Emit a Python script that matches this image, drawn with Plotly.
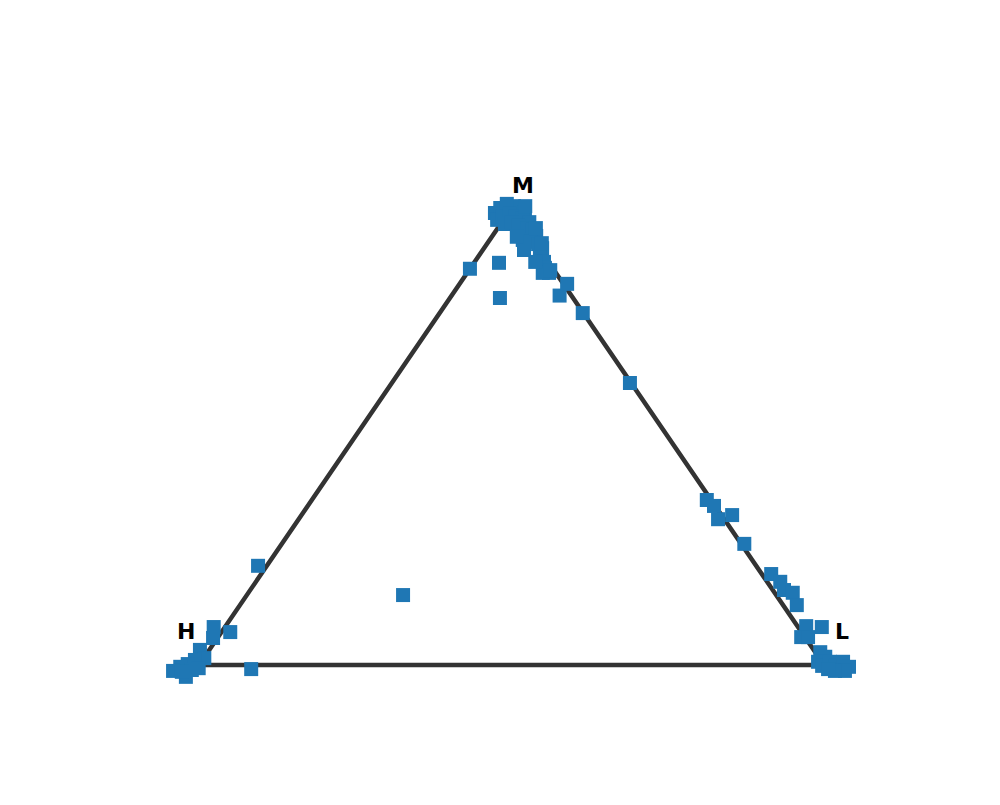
import plotly.graph_objects as go

# Ternary data: fractions (H, L, M)
h_vals = [
    # M corner cluster
    0.032, 0.018, 0.003, -0.006, -0.014, -0.017, 0.036, 0.023, 0.009, 0.002,
    -0.006, -0.013, 0.028, 0.015, 0.009, -0.003, -0.010, -0.009, 0.017, 0.007,
    0.026, -0.003, -0.005, 0.007, 0.007, 0.012, 0.011, 0.023, 0.021, 0.021,
    -0.024, -0.017, -0.010, 0.006,
    # upper points
    0.133, 0.080, 0.117, 0.002, 0.001, 0.019, -0.006,
    # interior / left edge
    0.597, 0.797,
    # H corner
    0.935, 0.948, 0.914, 0.921, 0.982, 0.984, 1.001, 1.017, 1.032, 1.048,
    1.034, 1.004, 1.017, 1.035,
    # L side and corner
    0.007, 0.002, 0.010, -0.017, -0.005, -0.015, -0.021, -0.018, -0.029, -0.022,
    -0.014, 0.006, -0.005, -0.038, -0.008, -0.011, 0.006, 0.004, -0.013, -0.018,
    -0.034, -0.038, -0.027, -0.011, -0.002,
]
l_vals = [
    -0.021, -0.018, -0.012, 0.002, 0.014, 0.026, -0.010, -0.005, 0.004, 0.016,
    0.028, 0.044, 0.007, 0.016, 0.030, 0.047, 0.058, 0.070, 0.053, 0.067,
    0.066, 0.082, 0.093, 0.098, 0.111, 0.119, 0.131, 0.040, 0.121, 0.097,
    0.020, 0.061, 0.087, 0.130,
    0.000, 0.040, 0.080, 0.381, 0.229, 0.174, 0.172,
    0.250, -0.014,
    -0.018, -0.007, 0.014, 0.088, -0.015, 0.001, -0.012, -0.019, -0.028, -0.035,
    -0.008, 0.003, -0.006, -0.020,
    0.632, 0.650, 0.671, 0.689, 0.740, 0.816, 0.839, 0.854, 0.871, 0.891,
    0.929, 0.933, 0.944, 0.955, 0.980, 0.993, 0.987, 0.998, 1.006, 1.020,
    1.027, 1.042, 1.040, 1.024, 1.011,
]
m_vals = [
    0.989, 1.000, 1.009, 1.004, 1.000, 0.991, 0.974, 0.982, 0.987, 0.982,
    0.978, 0.969, 0.965, 0.969, 0.961, 0.956, 0.952, 0.939, 0.930, 0.926,
    0.908, 0.921, 0.912, 0.895, 0.882, 0.869, 0.858, 0.937, 0.858, 0.882,
    1.004, 0.956, 0.923, 0.864,
    0.867, 0.880, 0.803, 0.617, 0.770, 0.814, 0.834,
    0.153, 0.217,
    0.083, 0.059, 0.072, -0.009, 0.033, 0.015, 0.011, 0.002, -0.004, -0.013,
    -0.026, -0.007, -0.011, -0.015,
    0.361, 0.348, 0.319, 0.328, 0.265, 0.199, 0.182, 0.164, 0.158, 0.131,
    0.085, 0.061, 0.061, 0.083, 0.028, 0.018, 0.007, -0.002, 0.007, -0.002,
    0.007, -0.004, -0.013, -0.013, -0.009,
]

corner_labels = ["H", "L", "M"]
# vertex fractions (H, L, M)
vertices = [(1, 0, 0), (0, 1, 0), (0, 0, 1)]


def to_xy(h, l, m):
    s = h + l + m
    return (l + m / 2) / s, m / s


pts = [to_xy(h, l, m) for h, l, m in zip(h_vals, l_vals, m_vals)]
px = [p[0] for p in pts]
py = [p[1] for p in pts]

tri = [to_xy(*v) for v in vertices + [vertices[0]]]

fig = go.Figure()
fig.add_trace(go.Scatter(
    x=[t[0] for t in tri], y=[t[1] for t in tri], mode="lines",
    line=dict(color="#333333", width=4.5), hoverinfo="skip", showlegend=False,
))
fig.add_trace(go.Scatter(
    x=px, y=py, mode="markers",
    marker=dict(symbol="square", size=14, color="#1f77b4", line=dict(width=0)),
    showlegend=False,
))

label_offsets = {"H": (-0.0208, 0.0722), "L": (0.0288, 0.0722), "M": (0.0184, 0.050)}
for name, v in zip(corner_labels, vertices):
    vx, vy = to_xy(*v)
    dx, dy = label_offsets[name]
    fig.add_annotation(
        x=vx + dx, y=vy + dy, text="<b>%s</b>" % name, showarrow=False,
        font=dict(family="DejaVu Sans", size=22, color="black"),
        xanchor="center", yanchor="middle",
    )

fig.update_layout(
    width=1000, height=805,
    margin=dict(l=0, r=0, t=0, b=0),
    paper_bgcolor="white", plot_bgcolor="white",
    xaxis=dict(range=[-0.3056, 1.2944], visible=False, showgrid=False, zeroline=False),
    yaxis=dict(range=[-0.3239, 1.4376], visible=False, showgrid=False, zeroline=False),
)

fig.write_html("out.html")
